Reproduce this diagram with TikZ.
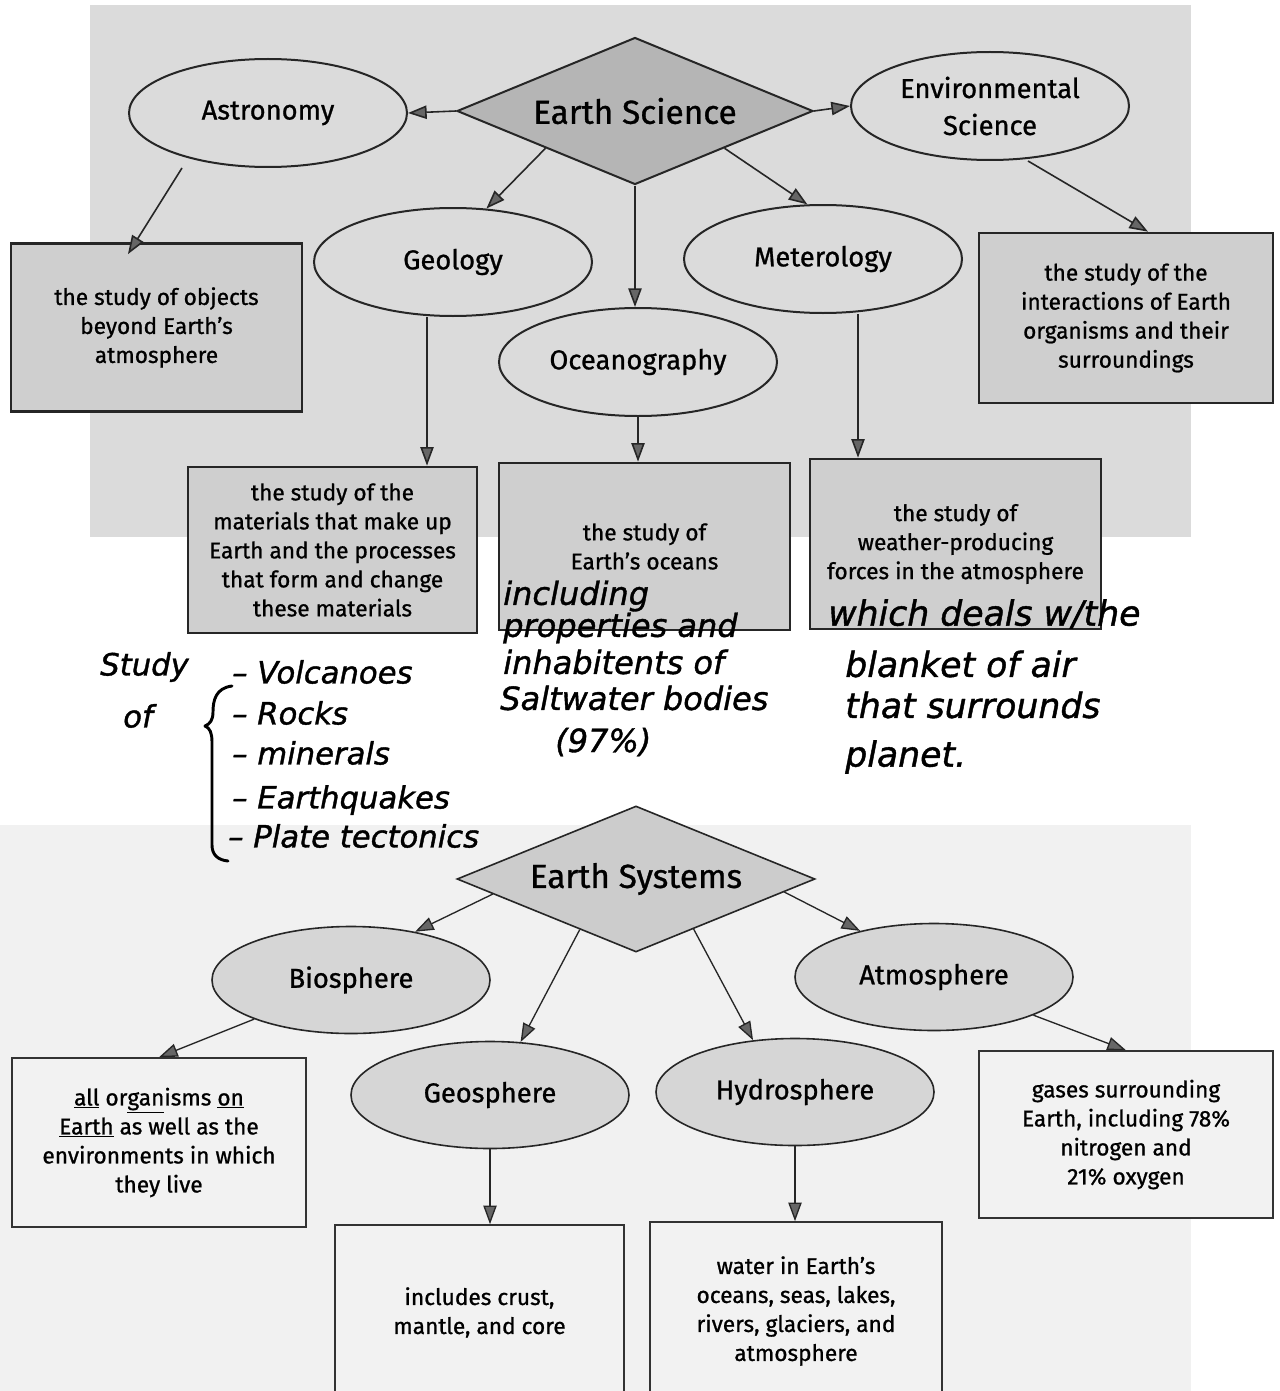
\documentclass[tikz,border=0pt]{standalone}
\usepackage{fontspec}
\newfontfamily\df{Fira Sans}[FakeBold=0.9]
\newfontfamily\hand{DejaVu Sans}[FakeBold=1.2]
\usetikzlibrary{shapes.geometric,arrows.meta}
\tikzset{
  lbl/.style={font=\df\fontsize{20.5}{24}\selectfont},
  boxtxt/.style={font=\df\fontsize{17}{21.75}\selectfont, align=center},
  topell/.style={ellipse, draw=black!85, line width=1.5pt, inner sep=0pt,
    minimum width=208.5pt, minimum height=81pt, lbl},
  topbox/.style={rectangle, draw=black!85, line width=2pt, fill=gray!38,
    inner sep=0pt, minimum width=218.25pt, minimum height=126pt, boxtxt},
  topdia/.style={diamond, draw=black!85, line width=1.5pt, fill=gray!58,
    inner sep=0pt, aspect=2.42, font=\df\fontsize{25}{30}\selectfont},
  botell/.style={ellipse, draw=black!85, line width=1.2pt, fill=gray!32,
    inner sep=0pt, minimum width=208.5pt, minimum height=80.25pt, lbl},
  botbox/.style={rectangle, draw=black!80, line width=1.2pt, fill=gray!10,
    inner sep=0pt, boxtxt},
  botdia/.style={diamond, draw=black!85, line width=1.2pt, fill=gray!40,
    inner sep=0pt, aspect=2.45, font=\df\fontsize{25}{30}\selectfont},
  arr/.style={draw=black!85, line width=1.2pt,
    -{Triangle[length=14pt,width=10pt,fill=black!60,color=black!85]}},
  barr/.style={arr, line width=1pt},
  handG/.style={font=\hand\itshape\fontsize{23}{28}\selectfont, anchor=west, inner sep=0pt},
  handO/.style={font=\hand\itshape\fontsize{24}{28}\selectfont, anchor=west, inner sep=0pt},
  handM/.style={font=\hand\itshape\fontsize{26}{30}\selectfont, anchor=west, inner sep=0pt},
}
\begin{document}
\begin{tikzpicture}[x=0.75pt,y=-0.75pt]
\useasboundingbox (0,0) rectangle (1279,1391);
\fill[gray!28] (90,5) rectangle (1191,537);
\fill[gray!11] (0,825) rectangle (1191,1391);

% ---------- Earth Science ----------
\node[topdia, minimum width=267pt, minimum height=110.25pt] (es) at (635,111) {Earth Science};
\node[topell] (astro) at (268,113) {Astronomy};
\node[topell, align=center, font=\df\fontsize{20.5}{27.75}\selectfont] (env) at (990,106) {Environmental\\Science};
\node[topell] (geo) at (453,262) {Geology};
\node[topell] (met) at (823,259) {Meterology};
\node[topell] (ocean) at (638,362) {Oceanography};

\node[topbox] (astrobox) at (156.5,327.5) {the study of objects\\beyond Earth’s\\atmosphere};
\node[topbox, minimum width=220.5pt, minimum height=127.5pt] (envbox) at (1126,318) {the study of the\\interactions of Earth\\organisms and their\\surroundings};
\node[topbox, minimum width=216.75pt, minimum height=124.5pt] (geobox) at (332.5,550) {the study of the\\materials that make up\\Earth and the processes\\that form and change\\these materials};
\node[topbox, minimum height=125.25pt] (oceanbox) at (644.5,546.5) {the study of\\Earth’s oceans};
\node[topbox, minimum height=127.5pt] (metbox) at (955.5,544) {the study of\\weather-producing\\forces in the atmosphere};

\draw[arr] (es.west) -- (astro.east);
\draw[arr] (es.east) -- (env.west);
\draw[arr] (es.south west) -- (geo.58);
\draw[arr] (es.south east) -- (met.106);
\draw[arr] (es.south) -- (es.south |- ocean.north);
\draw[arr] ([xshift=-64.5pt]astro.south) -- ([xshift=-21.4pt,yshift=-9pt]astrobox.north);
\draw[arr] ([xshift=28.5pt]env.south) -- ([xshift=16.5pt]envbox.north);
\draw[arr] ([xshift=-19.5pt]geo.south) -- ([xshift=-19.5pt]geo.south |- geobox.north);
\draw[arr] (ocean.south) -- (ocean.south |- oceanbox.north);
\draw[arr] ([xshift=26.25pt]met.south) -- ([xshift=26.25pt]met.south |- metbox.north);

% ---------- handwritten notes ----------
\node[handG] (hstudy) at (100,667) {Study};
\node[handG] (hof) at (123,716) {of};
\draw[line width=2.2pt, line cap=round, line join=round]
  (232,686) .. controls (216,688) and (213,700) .. (213,712)
  .. controls (213,720) and (210,724) .. (205,726)
  .. controls (210,728) and (212,733) .. (212,742)
  -- (212,845) .. controls (212,855) and (218,860) .. (228,861);
\node[handG] (hv) at (232,672) {– Volcanoes};
\node[handG] (hr) at (232,713) {– Rocks};
\node[handG] (hmin) at (232,753) {– minerals};
\node[handG] (heq) at (232,800) {– Earthquakes};
\node[handG] (hpt) at (228,836) {– Plate tectonics};

\node[handO] (o1) at (503,596) {including};
\node[handO] (o2) at (503,628) {properties and};
\node[handO] (o3) at (503,662) {inhabitents of};
\node[handO] (o4) at (500,698) {Saltwater bodies};
\node[handO] (o5) at (555,742) {(97\%)};

\node[handM] (m1) at (828,614) {which deals w/the};
\node[handM] (m2) at (845,664) {blanket of air};
\node[handM] (m3) at (845,705) {that surrounds};
\node[handM] (m4) at (845,757) {planet.};

% ---------- Earth Systems ----------
\node[botdia, minimum width=268.5pt, minimum height=109.5pt] (esys) at (636,879) {Earth Systems};
\node[botell] (bio) at (351,980) {Biosphere};
\node[botell] (atm) at (934,977) {Atmosphere};
\node[botell] (geos) at (490,1095) {Geosphere};
\node[botell] (hyd) at (795,1092) {Hydrosphere};

\node[botbox, minimum width=220.5pt, minimum height=126.75pt] (biobox) at (159,1142.5)
  {\underline{all} or\underline{gan}isms \underline{on}\\\underline{Earth} as well as the\\environments in which\\they live};
\node[botbox, minimum width=220.5pt, minimum height=125.25pt] (atmbox) at (1126,1134.5)
  {gases surrounding\\Earth, including 78\%\\nitrogen and\\21\% oxygen};
\node[botbox, minimum width=216.75pt, minimum height=131.25pt] (geosbox) at (479.5,1312.5)
  {includes crust,\\mantle, and core};
\node[botbox, minimum width=219pt, minimum height=133.5pt] (hydbox) at (796,1311)
  {water in Earth’s\\oceans, seas, lakes,\\rivers, glaciers, and\\atmosphere};

\draw[barr] (esys.186) -- (bio.37);
\draw[barr] (esys.222) -- (geos.60);
\draw[barr] (esys.319) -- (hyd.129);
\draw[barr] (esys.355) -- (atm.148);
\draw[barr] (bio.202) -- (biobox.north);
\draw[barr] (atm.339) -- (atmbox.north);
\draw[barr] (geos.south) -- (geos.south |- geosbox.north);
\draw[barr] (hyd.south) -- (hyd.south |- hydbox.north);
\end{tikzpicture}
\end{document}
